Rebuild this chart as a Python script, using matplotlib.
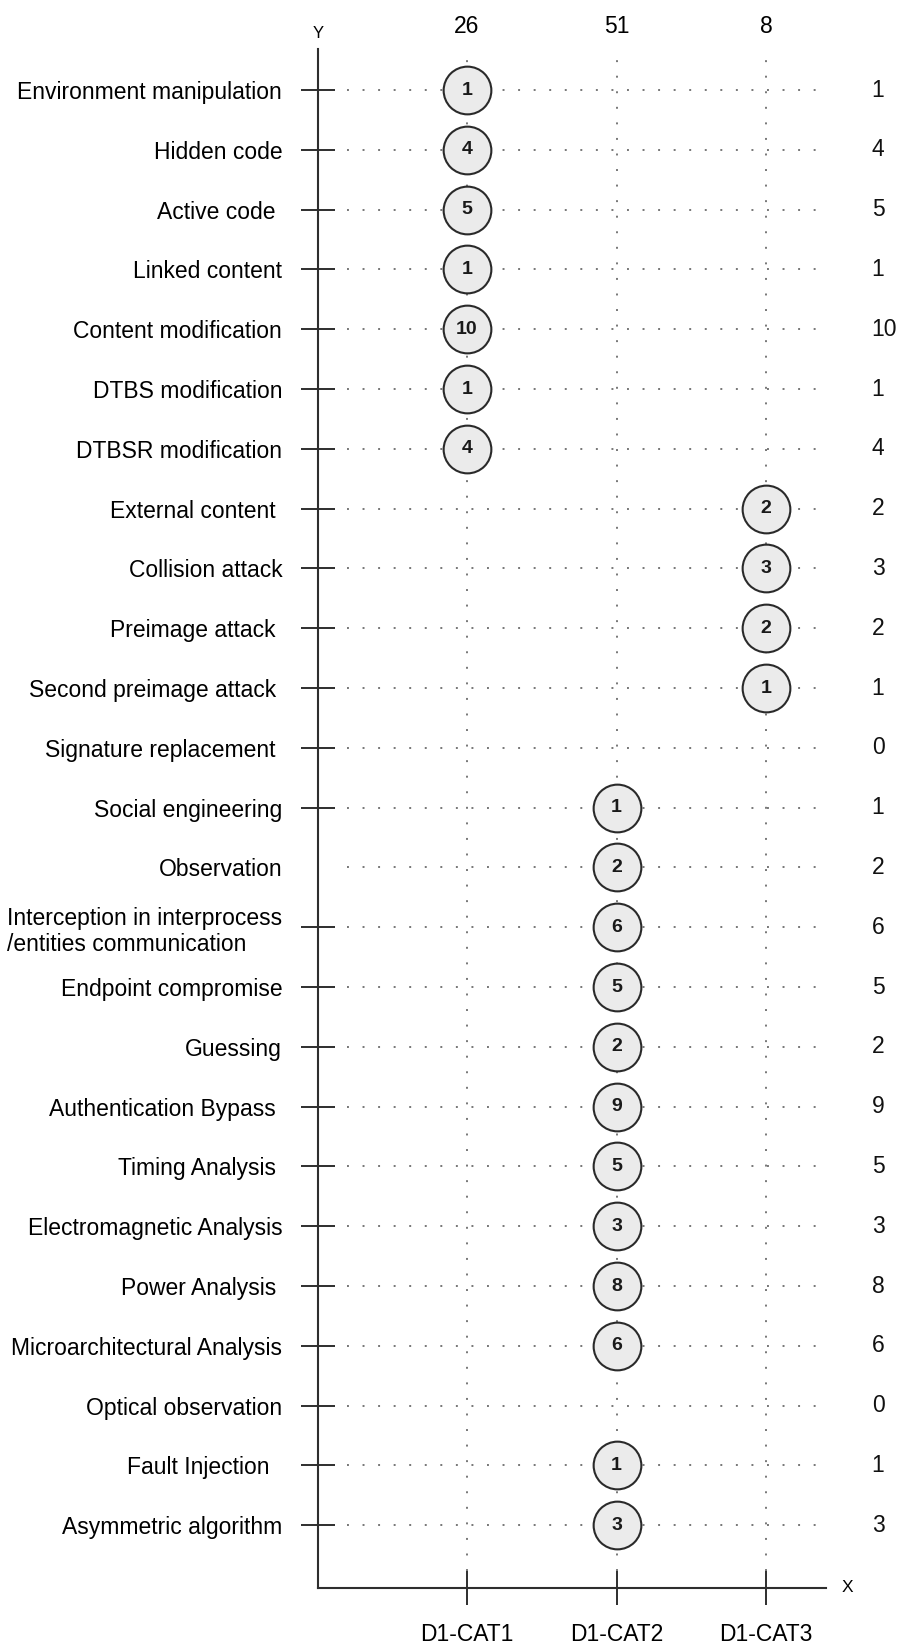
import matplotlib
matplotlib.use("Agg")
import matplotlib.pyplot as plt

plt.rcParams['font.family'] = ['Liberation Sans', 'DejaVu Sans']

# threat categories (rows, top to bottom)
threats = [
    "Environment manipulation", "Hidden code", "Active code ", "Linked content",
    "Content modification", "DTBS modification", "DTBSR modification",
    "External content ", "Collision attack", "Preimage attack ",
    "Second preimage attack ", "Signature replacement ", "Social engineering",
    "Observation", "Interception in interprocess\n/entities communication",
    "Endpoint compromise", "Guessing", "Authentication Bypass ",
    "Timing Analysis ", "Electromagnetic Analysis", "Power Analysis ",
    "Microarchitectural Analysis", "Optical observation", "Fault Injection  ",
    "Asymmetric algorithm",
]
# column each threat belongs to (-1 = none)
column = [0, 0, 0, 0, 0, 0, 0,
          2, 2, 2, 2, -1,
          1, 1, 1, 1, 1, 1, 1, 1, 1, 1, -1, 1, 1]
counts = [1, 4, 5, 1, 10, 1, 4,
          2, 3, 2, 1, 0,
          1, 2, 6, 5, 2, 9, 5, 3, 8, 6, 0, 1, 3]
categories = ["D1-CAT1", "D1-CAT2", "D1-CAT3"]

totals = [sum(c for c, k in zip(counts, column) if k == i) for i in range(len(categories))]

fig = plt.figure(figsize=(9.01, 16.46), dpi=100)
ax = fig.add_axes([318 / 901, 58 / 1646, 508 / 901, 1539 / 1646])

rows = list(range(len(threats)))
ax.set_xlim(-0.9967, 2.401)
ax.set_ylim(25.05, -0.686)

dark = "#2e2e2e"
dot = "#777777"

# dotted guides
for r in rows:
    ax.axhline(r, xmin=0.058, xmax=0.99, color=dot, lw=1.4,
               linestyle=(0, (1, 7)), zorder=1)
for i in range(len(categories)):
    ax.axvline(i, ymin=0.011, ymax=1.0, color=dot, lw=1.4,
               linestyle=(0, (1, 7)), zorder=1)

# bubbles
xs = [column[r] for r in rows if column[r] >= 0]
ys = [r for r in rows if column[r] >= 0]
vals = [counts[r] for r in rows if column[r] >= 0]
ax.scatter(xs, ys, s=1180, facecolor="#ebebeb", edgecolor="#2a2a2a",
           linewidth=1.5, zorder=3)
for x, y, v in zip(xs, ys, vals):
    ax.text(x, y, str(v), ha="center", va="center", fontsize=14,
            fontweight="bold", color="#1a1a1a", zorder=4)

# row totals on the right
for r in rows:
    ax.text(1.09, r, str(counts[r]), transform=ax.get_yaxis_transform(),
            ha="left", va="center", fontsize=16.5, color="#111111", clip_on=False)

# axes styling
for s in ["top", "right"]:
    ax.spines[s].set_visible(False)
for s in ["left", "bottom"]:
    ax.spines[s].set_color(dark)
    ax.spines[s].set_linewidth(1.5)

ax.set_yticks(rows)
ax.set_yticklabels(threats, fontsize=16.5)
ax.set_xticks(range(len(categories)))
ax.set_xticklabels(categories, fontsize=16.5)
ax.tick_params(axis="y", direction="inout", length=24.5, width=1.4, color=dark, pad=13.5)
ax.tick_params(axis="x", direction="inout", length=25, width=1.4, color=dark, pad=13)
ax.get_yticklabels()[14].set_multialignment("left")
ax.yaxis.get_major_ticks()[13].tick1line.set_visible(False)

# column totals on top
top = ax.secondary_xaxis("top")
top.set_xticks(range(len(categories)))
top.set_xticklabels([str(t) for t in totals], fontsize=16.5)
top.tick_params(length=0, pad=8)
top.spines["top"].set_visible(False)

ax.text(0, 1.0098, "Y", transform=ax.transAxes, ha="center", va="center",
        fontsize=12)
ax.text(1.043, 0, "X", transform=ax.transAxes, ha="center", va="center",
        fontsize=12.5)

fig.savefig("out.png", dpi=100)
